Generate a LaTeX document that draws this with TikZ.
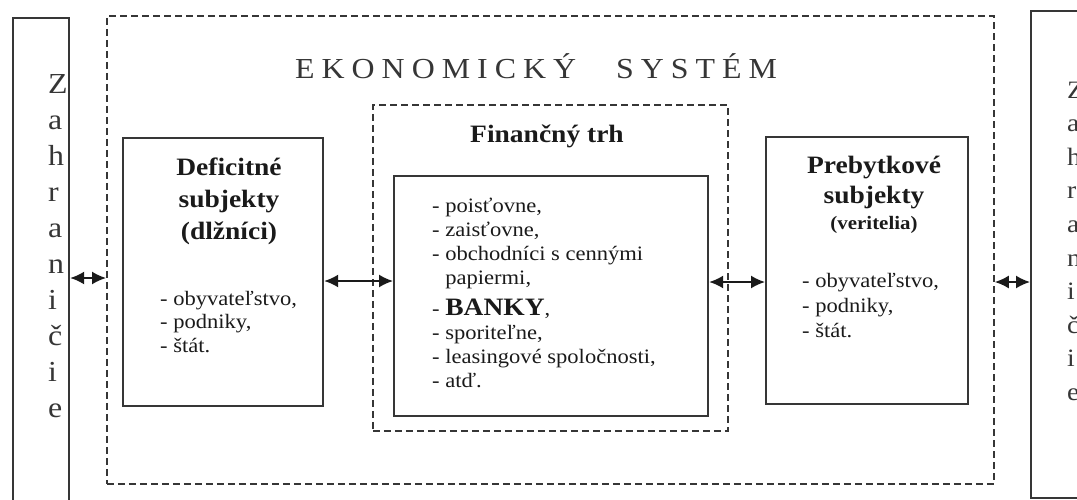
\documentclass[tikz,border=0pt]{standalone}
\usepackage{fontspec}
\setmainfont{Liberation Serif}[FakeStretch=1.1]
\usetikzlibrary{arrows.meta}
\definecolor{ink}{HTML}{1A1A1A}
\definecolor{edge}{HTML}{363636}
\newcommand{\lsp}{\hspace{7pt}}

\begin{document}
\begin{tikzpicture}[x=1pt,y=-1pt,
  solidbox/.style={draw=edge, line width=2.2pt, inner sep=0pt, anchor=north west},
  dashbox/.style={draw=edge, line width=1.8pt, dash pattern=on 7pt off 4pt, inner sep=0pt, anchor=north west},
  dblarrow/.style={draw=ink, line width=1.7pt, {Latex[length=14pt,width=13pt]}-{Latex[length=14pt,width=13pt]}},
  txt/.style={inner sep=0pt, text=ink},
  listfont/.style={font=\fontsize{20.5}{23.5}\selectfont},
  headfont/.style={font=\bfseries\fontsize{25}{32}\selectfont},
]
\useasboundingbox (0,0) rectangle (1077,499);
\clip (0,0) rectangle (1077,499);

% boxes
\node[solidbox, minimum width=56pt, minimum height=500pt] (zahrL) at (12,17) {};
\node[solidbox, minimum width=80pt, minimum height=487pt] (zahrR) at (1030,10) {};
\node[dashbox, minimum width=887pt, minimum height=468pt] (ekon) at (106,15) {};
\node[dashbox, minimum width=355pt, minimum height=326pt] (fintrh) at (372,104) {};
\node[solidbox, minimum width=200pt, minimum height=268pt] (defic) at (122,137) {};
\node[solidbox, minimum width=314pt, minimum height=240pt] (inst) at (393,175) {};
\node[solidbox, minimum width=202pt, minimum height=267pt] (prebyt) at (765,136) {};

% vertical words
\node[txt, anchor=base west, text=edge, font=\fontsize{29}{36}\selectfont] (zahrLtxt) at (48,93)
  {\begin{tabular}[t]{@{}l@{}}Z\\a\\h\\r\\a\\n\\i\\č\\i\\e\end{tabular}};
\node[txt, anchor=base west, text=edge, font=\fontsize{25}{33.6}\selectfont] (zahrRtxt) at (1067,98)
  {\begin{tabular}[t]{@{}l@{}}Z\\a\\h\\r\\a\\n\\i\\č\\i\\e\end{tabular}};

% title
\node[txt, anchor=base west, text=edge, font=\fontsize{29}{34}\selectfont] (title) at (295,78)
  {E\lsp K\lsp O\lsp N\lsp O\lsp M\lsp I\lsp C\lsp K\lsp Ý\hspace{40pt}S\lsp Y\lsp S\lsp T\lsp É\lsp M};

% deficit subjects
\node[txt, anchor=base, headfont] (defhead) at (229,175)
  {\begin{tabular}[t]{@{}c@{}}Deficitné\\subjekty\\(dlžníci)\end{tabular}};
\node[txt, anchor=base west, listfont] (deflist) at (160,305)
  {\begin{tabular}[t]{@{}l@{}}- obyvateľstvo,\\- podniky,\\- štát.\end{tabular}};

% financial market
\node[txt, anchor=base, font=\bfseries\fontsize{25}{30}\selectfont] (finhead) at (547,142) {Finančný trh};
\node[txt, anchor=base west, font=\fontsize{20.5}{24}\selectfont] (instlist) at (432,212)
  {\begin{tabular}[t]{@{}l@{}}- poisťovne,\\- zaisťovne,\\- obchodníci s cennými\\\hphantom{- }papiermi,\\[7pt]- {\bfseries\fontsize{25}{30}\selectfont BANKY},\\- sporiteľne,\\- leasingové spoločnosti,\\- atď.\end{tabular}};

% surplus subjects
\node[txt, anchor=base, font=\bfseries\fontsize{25}{30}\selectfont] (prehead) at (874,173)
  {\begin{tabular}[t]{@{}c@{}}Prebytkové\\subjekty\\[-4pt]{\fontsize{19}{22}\selectfont (veritelia)}\end{tabular}};
\node[txt, anchor=base west, font=\fontsize{20.5}{25}\selectfont] (prelist) at (802,287)
  {\begin{tabular}[t]{@{}l@{}}- obyvateľstvo,\\- podniky,\\- štát.\end{tabular}};

% arrows
\coordinate (yA) at (0,278);
\coordinate (yB) at (0,281);
\coordinate (yC) at (0,282);
\draw[dblarrow] (zahrL.east |- yA) -- (ekon.west |- yA);
\draw[dblarrow] (defic.east |- yB) -- (inst.west |- yB);
\draw[dblarrow] (inst.east |- yC) -- (prebyt.west |- yC);
\draw[dblarrow] (ekon.east |- yC) -- (zahrR.west |- yC);
\end{tikzpicture}
\end{document}
